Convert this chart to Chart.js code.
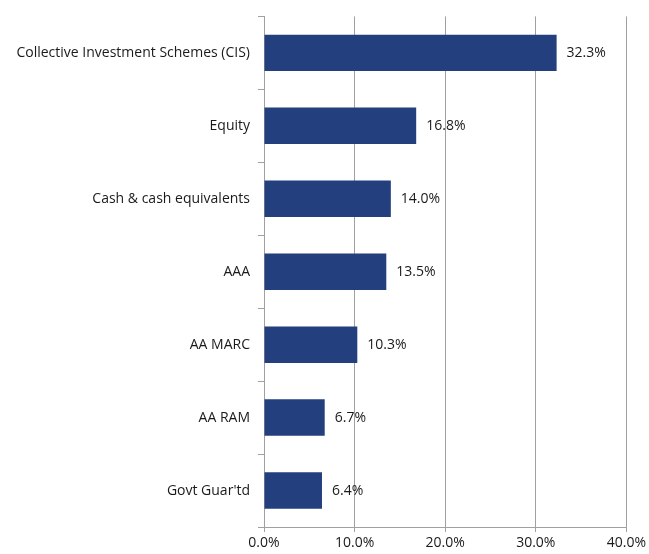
<!DOCTYPE html>
<html><head><meta charset="utf-8">
<script src="https://cdn.jsdelivr.net/npm/chart.js@4"></script>
<style>html,body{margin:0;padding:0;background:#fff}#wrap{width:649px;height:554px}</style>
</head><body><div id="wrap"><canvas id="c" width="649" height="554"></canvas></div>
<script>
const categories = ["Collective Investment Schemes (CIS)","Equity","Cash & cash equivalents","AAA","AA MARC","AA RAM","Govt Guar'td"];
const values = [32.3, 16.8, 14.0, 13.5, 10.3, 6.7, 6.4];
const xTicks = [0, 10, 20, 30, 40];

const FONT = "'Open Sans', sans-serif";
const labelPlugin = {
  id: 'barLabels',
  afterDatasetsDraw(chart) {
    const ctx = chart.ctx;
    const meta = chart.getDatasetMeta(0);
    ctx.save();
    ctx.font = "14px " + FONT;
    ctx.fillStyle = "#1a1a1a";
    ctx.textAlign = "left";
    ctx.textBaseline = "middle";
    meta.data.forEach((bar, i) => {
      ctx.fillText(values[i].toFixed(1) + "%", bar.x + 10, bar.y);
    });
    ctx.restore();
  }
};

new Chart(document.getElementById('c'), {
  type: 'bar',
  data: {
    labels: categories,
    datasets: [{
      data: values,
      backgroundColor: '#233F7E',
      borderWidth: 0,
      barPercentage: 0.5,
      categoryPercentage: 1.0
    }]
  },
  options: {
    indexAxis: 'y',
    responsive: false,
    animation: false,
    devicePixelRatio: 1,
    layout: { padding: { top: 16, right: 22, left: 0, bottom: 0 } },
    plugins: { legend: { display: false }, tooltip: { enabled: false } },
    scales: {
      x: {
        min: 0, max: 40,
        afterBuildTicks(scale) { scale.ticks = xTicks.map(v => ({ value: v })); },
        afterFit(scale) { scale.height = 27; },
        grid: { color: '#A0A0A0', lineWidth: 1, drawTicks: true, tickLength: 5, tickColor: '#A0A0A0' },
        border: { color: '#A0A0A0', width: 1 },
        ticks: {
          padding: 3,
          color: '#1a1a1a',
          font: { family: FONT, size: 14 },
          maxRotation: 0,
          callback: v => Number(v).toFixed(1) + '%'
        }
      },
      y: {
        afterFit(scale) { scale.width = 264; },
        grid: { display: true, drawOnChartArea: false, drawTicks: true, tickLength: 6, color: '#A0A0A0', offset: true },
        border: { color: '#A0A0A0', width: 1 },
        ticks: {
          padding: 8,
          color: '#1a1a1a',
          font: { family: FONT, size: 14 }
        }
      }
    }
  },
  plugins: [labelPlugin]
});
</script>
</body></html>
